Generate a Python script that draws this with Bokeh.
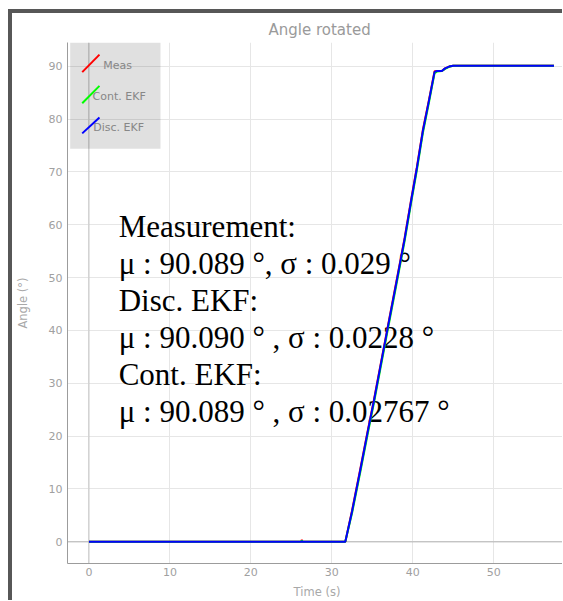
from bokeh.plotting import figure
from bokeh.models import BoxAnnotation, Arrow, Span, Range1d, ColumnDataSource
from bokeh.core.properties import value
from bokeh.embed import file_html
from bokeh.resources import INLINE

# Rotation test: angle vs time for the measurement and both filters
time_s = [0.0, 5.0, 10.0, 15.0, 20.0, 25.0, 26.2, 26.3, 26.4, 30.0, 31.67, 32.5,
          33.5, 34.45, 35.2, 36.0, 37.0, 38.0, 39.0, 39.8, 40.5, 41.26, 42.0,
          42.7, 43.0, 43.6, 44.0, 44.5, 45.0, 50.0, 55.0, 57.45]
meas_deg = [0, 0, 0, 0, 0, 0, 0, 0.35, 0, 0, 0, 5.9,
            13.6, 21.1, 26.8, 33.3, 41.4, 49.4, 57.5, 64.7, 70.8, 78.0, 83.6,
            89.06, 89.1, 89.1, 89.6, 89.95, 90.09, 90.09, 90.09, 90.09]
cont_ekf_deg = [0, 0, 0, 0, 0, 0, 0, 0.25, 0, 0, 0, 5.4,
                13.0, 20.5, 26.2, 32.7, 40.8, 48.8, 56.9, 64.1, 70.2, 77.4, 83.1,
                88.7, 89.0, 89.1, 89.5, 89.9, 90.09, 90.09, 90.09, 90.09]
disc_ekf_deg = [0, 0, 0, 0, 0, 0, 0, 0.1, 0, 0, 0, 5.7,
                13.4, 20.9, 26.6, 33.1, 41.2, 49.2, 57.3, 64.5, 70.6, 77.8, 83.4,
                88.95, 89.1, 89.1, 89.6, 89.95, 90.09, 90.09, 90.09, 90.09]

series_names = ["Meas", "Cont. EKF", "Disc. EKF"]
series_colors = ["#ff0000", "#00ff00", "#0000ff"]

stats_lines = [
    "Measurement:",
    "μ : 90.089 °, σ : 0.029 °",
    "Disc. EKF:",
    "μ : 90.090 ° , σ : 0.0228 °",
    "Cont. EKF:",
    "μ : 90.089 ° , σ : 0.02767 °",
]

x_ticks = [0, 10, 20, 30, 40, 50]
y_ticks = [0, 10, 20, 30, 40, 50, 60, 70, 80, 90]

GRAY_TXT = "#a0a0a0"
UI_FONT = "DejaVu Sans"
EDGE = "#575757"

# The plot sits inside a window whose dark edge runs along the top and left
p = figure(width=550, height=587, title="Angle rotated",
           x_range=Range1d(-2.65, 59.0), y_range=Range1d(-4.1, 94.5),
           output_backend="svg", toolbar_location=None,
           min_border_left=51, min_border_right=0, min_border_top=29,
           min_border_bottom=41)
p.styles = {"box-sizing": "content-box", "overflow": "hidden",
            "margin-left": "8px", "margin-top": "9px",
            "border-left": f"4px solid {EDGE}",
            "border-top": f"4px solid {EDGE}"}
p.outline_line_color = None
p.background_fill_color = "white"
p.border_fill_color = "white"

p.title.align = "left"
p.title.offset = 201
p.title.text_font = UI_FONT
p.title.text_font_size = "15px"
p.title.text_font_style = "normal"
p.title.text_color = "#9a9a9a"
p.title.standoff = 7

for ax, ticks in ((p.xaxis[0], x_ticks), (p.yaxis[0], y_ticks)):
    ax.ticker = ticks
    ax.axis_line_color = "#9c9c9c"
    ax.major_tick_line_color = None
    ax.minor_tick_line_color = None
    ax.major_tick_out = 0
    ax.major_tick_in = 0
    ax.minor_tick_out = 0
    ax.major_label_text_color = GRAY_TXT
    ax.major_label_text_font = UI_FONT
    ax.major_label_text_font_size = "11px"
    ax.axis_label_text_font = UI_FONT
    ax.axis_label_text_font_size = "11.5px"
    ax.axis_label_text_font_style = "normal"
    ax.axis_label_text_color = "#a8a8a8"

p.xaxis.axis_label = "Time (s)"
p.yaxis.axis_label = "Angle (°)"
p.xaxis.major_label_standoff = 4
p.yaxis.major_label_standoff = 5
p.xaxis.axis_label_standoff = 6
p.yaxis.axis_label_standoff = 16

p.grid.grid_line_color = "#e6e6e6"
p.grid.grid_line_width = 1

# Darker zero lines
p.add_layout(Span(location=0, dimension="width", line_color="#b4b4b4",
                  line_width=1, level="underlay"))
p.add_layout(Span(location=0, dimension="height", line_color="#c4c4c4",
                  line_width=1, level="underlay"))

# Statistics text block (drawn before the curves so the curves sit on top)
line_step = 7.0
p.text(x=[3.67] * len(stats_lines),
       y=[59.7 - i * line_step for i in range(len(stats_lines))],
       text=stats_lines, text_font=value("Liberation Serif"),
       text_font_size="31px", text_color="black",
       text_baseline="alphabetic", text_align="left")

src = ColumnDataSource(dict(t=time_s, meas=meas_deg, cont=cont_ekf_deg,
                            disc=disc_ekf_deg))
for col, color in zip(["meas", "cont", "disc"], series_colors):
    p.line("t", col, source=src, line_color=color, line_width=2)

# Legend panel: translucent gray box with slanted swatches
p.add_layout(BoxAnnotation(left=-2.32, right=8.84, top=94.5, bottom=74.4,
                           fill_color="black", fill_alpha=0.12,
                           line_color=None))
swatch_y = [(88.9, 92.2), (83.0, 86.3), (77.3, 80.3)]
label_pos = [(1.77, 90.14), (0.45, 84.25), (0.53, 78.4)]
for name, color, (y0, y1), (lx, ly) in zip(series_names, series_colors,
                                            swatch_y, label_pos):
    p.add_layout(Arrow(x_start=-0.83, y_start=y0, x_end=1.3, y_end=y1,
                       end=None, line_color=color, line_width=2))
    p.text(x=[lx], y=[ly], text=[name], text_font=value(UI_FONT),
           text_font_size="11px", text_color="#9a9a9a",
           text_baseline="middle", text_align="left")

open("out.html", "w").write(file_html(p, INLINE))
